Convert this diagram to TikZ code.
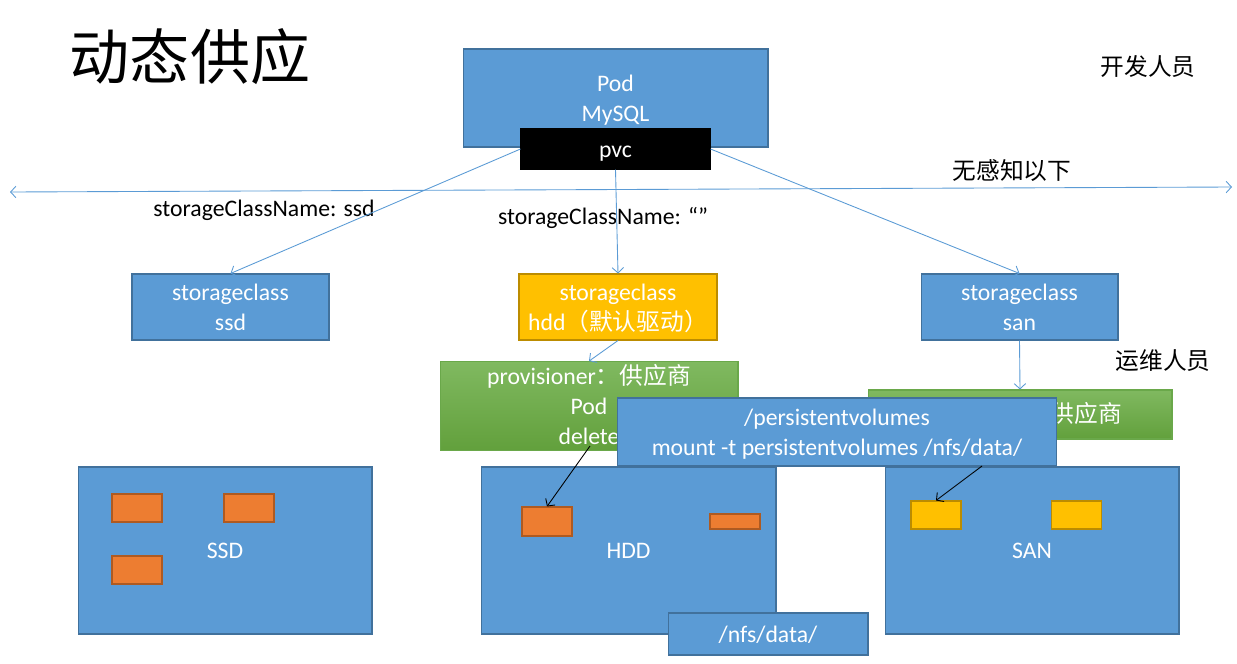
\documentclass[tikz,border=0pt]{standalone}
\usepackage{fontspec}
\setmainfont{Carlito}
\newfontfamily\cjk{Noto Sans CJK SC}
\usepackage{tikz}
\usetikzlibrary{arrows.meta}
\definecolor{boxblue}{HTML}{5B9BD5}
\definecolor{blueedge}{HTML}{41719C}
\definecolor{boxyellow}{HTML}{FFC000}
\definecolor{yellowedge}{HTML}{BC8C00}
\definecolor{greentop}{HTML}{80B960}
\definecolor{greenbot}{HTML}{62A03C}
\definecolor{greenedge}{HTML}{6AA84A}
\definecolor{boxorange}{HTML}{ED7D31}
\definecolor{orangeedge}{HTML}{AE5A21}
\newcommand\lh{\rule[-3.6pt]{0pt}{16.5pt}}
\tikzset{
	>={Straight Barb[length=3pt, width=6.5pt]},
	lbl/.style={inner sep=0pt, font=\fontsize{13.5}{17}\selectfont},
	bluebox/.style={lbl, draw=blueedge, fill=boxblue, text=white, align=center, line width=0.6pt},
	yellowbox/.style={bluebox, draw=yellowedge, fill=boxyellow},
	greenbox/.style={bluebox, draw=greenedge, top color=greentop, bottom color=greenbot},
	blackbox/.style={bluebox, draw=black, fill=black},
	chip/.style={draw=orangeedge, fill=boxorange, line width=0.6pt, inner sep=0pt},
	ychip/.style={chip, draw=yellowedge, fill=boxyellow},
	link/.style={draw=boxblue, line width=0.5pt, ->},
	mnt/.style={draw=black, line width=0.5pt, ->}
}

\begin{document}
\begin{tikzpicture}[x=0.02cm, y=-0.02cm]
	\useasboundingbox (0,0) rectangle (1237,663);
	\node[lbl, font=\cjk\fontsize{34.2}{40}\selectfont] (title) at (190,57) {动态供应};
	\node[lbl] (dev) at (1148,66) {\cjk 开发人员};
	\node[lbl] (ops) at (1163,361) {\cjk 运维人员};
	\node[lbl] (noview) at (1012,171) {\cjk 无感知以下};

	\node[bluebox, minimum width=6.1cm, minimum height=1.96cm] (pod) at (615.5,98) {\lh Pod\\MySQL\lh};
	\node[blackbox, minimum width=3.78cm, minimum height=0.8cm] (pvc) at (615.5,149) {\lh pvc};

	\coordinate (lend) at (10,192);
	\coordinate (rend) at (1232,187);
	\draw[link, <->] (lend) -- (rend);

	\node[lbl] (scssd) at (264,210) {storageClassName: ssd};
	\node[lbl] (scnone) at (603,218) {storageClassName: “”};

	\node[bluebox, minimum width=3.94cm, minimum height=1.32cm] (ssdclass) at (230.5,307) {\lh storageclass\\ssd\lh};
	\node[yellowbox, minimum width=3.96cm, minimum height=1.32cm] (hddclass) at (618,307) {\lh storageclass\\hdd{\cjk（默认驱动）}\lh};
	\node[bluebox, minimum width=3.94cm, minimum height=1.32cm] (sanclass) at (1019.5,307) {\lh storageclass\\san\lh};

	\draw[link] (pvc.west) -- (ssdclass.north);
	\draw[link] (pvc.south) -- (hddclass.north);
	\draw[link] (pvc.east) -- (sanclass.north);

	\node[greenbox, minimum width=5.96cm, minimum height=1.6cm] (provhdd) at (589,406) {\lh provisioner{\cjk ：供应商}\\Pod\\delete\lh};
	\node[greenbox, minimum width=6.08cm, minimum height=0.98cm] (provsan) at (1020,414.5) {\lh provisioner{\cjk ：供应商}};
	\draw[link] (hddclass.south) -- (provhdd.north);
	\draw[link] (sanclass.south) -- (provsan.north);

	\node[bluebox, minimum width=8.8cm, minimum height=1.36cm] (pvmount) at (837,432) {\lh /persistentvolumes\\mount -t persistentvolumes /nfs/data/\lh};

	\node[bluebox, minimum width=5.88cm, minimum height=3.34cm] (ssd) at (225,550.5) {\lh SSD};
	\node[bluebox, minimum width=5.9cm, minimum height=3.34cm] (hdd) at (628.5,550.5) {\lh HDD};
	\node[bluebox, minimum width=5.88cm, minimum height=3.34cm] (san) at (1032,550.5) {\lh SAN};

	\node[chip, minimum width=1cm, minimum height=0.56cm] (ssda) at (137,508) {};
	\node[chip, minimum width=1cm, minimum height=0.56cm] (ssdb) at (249,508) {};
	\node[chip, minimum width=1cm, minimum height=0.56cm] (ssdc) at (137,570) {};
	\node[chip, minimum width=1cm, minimum height=0.58cm] (hdda) at (547,521.5) {};
	\node[chip, minimum width=1cm, minimum height=0.3cm] (hddb) at (735,521.5) {};
	\node[ychip, minimum width=1cm, minimum height=0.56cm] (sana) at (936,515) {};
	\node[ychip, minimum width=1cm, minimum height=0.56cm] (sanb) at (1076.5,515) {};

	\node[bluebox, minimum width=4cm, minimum height=0.84cm] (nfs) at (768,634) {\lh /nfs/data/};

	\coordinate (hddmnt) at (590,446);
	\coordinate (sanmnt) at (982,466);
	\draw[mnt] (hddmnt) -- (hdda.north);
	\draw[mnt] (sanmnt) -- (sana.north);
\end{tikzpicture}
\end{document}
